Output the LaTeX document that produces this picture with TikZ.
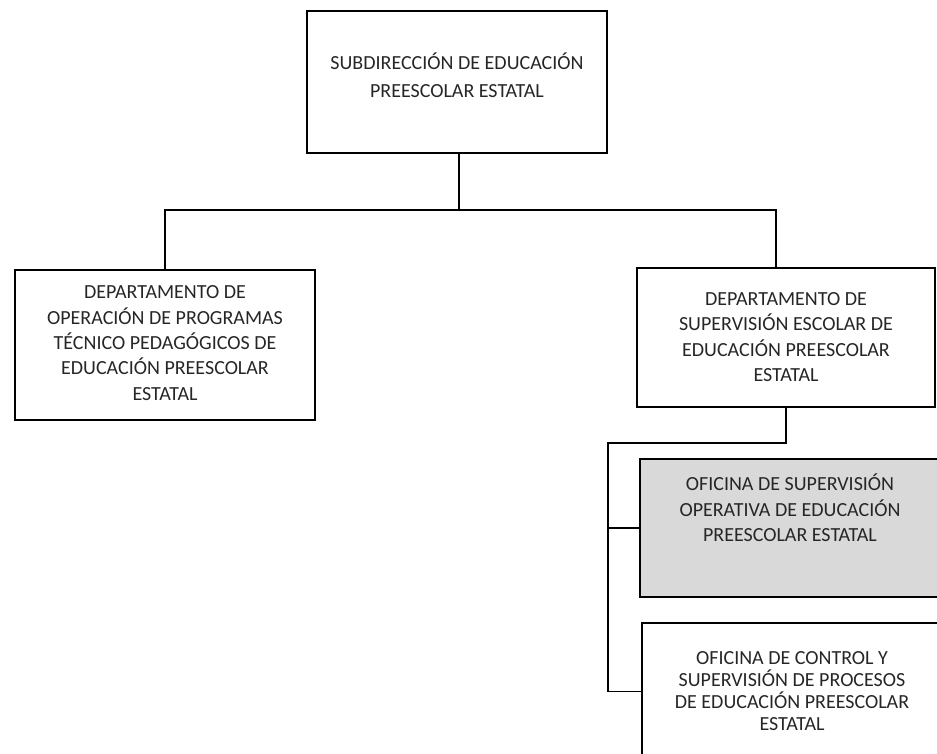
\documentclass[tikz,border=0pt]{standalone}
\usepackage{fontspec}
\setmainfont{Carlito}

\begin{document}
\begin{tikzpicture}[x=0.75pt,y=0.75pt,yscale=-1,xscale=1,
	unit/.style={draw=black,line width=1.3pt,inner sep=0pt,minimum width=223.5pt},
	txt/.style={align=center,text=black!85,font=\fontsize{15}{19}\selectfont},
	link/.style={line width=1.3pt}]
	\useasboundingbox (0,0) rectangle (937,753);

	% boxes
	\node [unit,minimum width=225pt,minimum height=106.5pt] (sub) at (457,82) {};
	\node [unit,minimum width=225pt,minimum height=112.5pt] (opr) at (165,345) {};
	\node [unit,minimum height=104.25pt] (sup) at (786,337.5) {};
	\node [unit,fill={rgb,255:red,217;green,217;blue,217},minimum height=103.5pt] (ofop) at (789,528) {};
	\node [unit,minimum height=102.75pt] (ofcp) at (791,691.5) {};

	\coordinate (bus) at (459,210);
	\coordinate (spine) at (608,443);

	\draw [link] (bus |- sub.south) -- (bus);
	\draw [link] (opr.north) |- (bus) -| ([xshift=-7.5pt]sup.north);
	\draw [link] (sup.south) |- (spine) |- (ofcp.west);
	\draw [link] (spine |- ofop.west) -- (ofop.west);

	% texts
	\node [txt,font=\fontsize{15}{21}\selectfont] (sub-t) at (457,75) {SUBDIRECCIÓN DE EDUCACIÓN\\PREESCOLAR ESTATAL};
	\node [txt] (opr-t) at (165,343) {DEPARTAMENTO DE\\OPERACIÓN DE PROGRAMAS\\TÉCNICO PEDAGÓGICOS DE\\EDUCACIÓN PREESCOLAR\\ESTATAL};
	\node [txt] (sup-t) at (786,337) {DEPARTAMENTO DE\\SUPERVISIÓN ESCOLAR DE\\EDUCACIÓN PREESCOLAR\\ESTATAL};
	\node [txt] (ofop-t) at (790,508) {OFICINA DE SUPERVISIÓN\\OPERATIVA DE EDUCACIÓN\\PREESCOLAR ESTATAL};
	\node [txt,font=\fontsize{15}{16.5}\selectfont] (ofcp-t) at (792,691) {OFICINA DE CONTROL Y\\SUPERVISIÓN DE PROCESOS\\DE EDUCACIÓN PREESCOLAR\\ESTATAL};

\end{tikzpicture}
\end{document}
